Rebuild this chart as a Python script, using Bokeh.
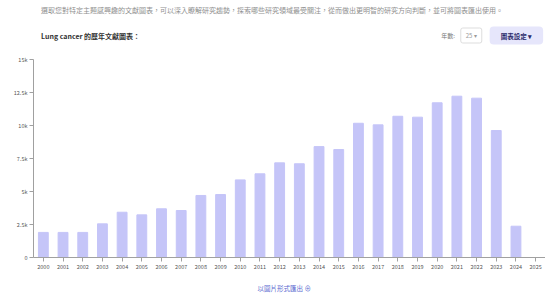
from bokeh.plotting import figure
from bokeh.layouts import column
from bokeh.models import Label, FixedTicker, Range1d
from bokeh.embed import file_html
from bokeh.resources import INLINE

years = [str(y) for y in range(2000, 2026)]
counts = [1900, 1900, 1900, 2550, 3430, 3230, 3690, 3560, 4700, 4770,
          5880, 6340, 7170, 7100, 8400, 8180, 10170, 10050, 10700, 10630,
          11720, 12220, 12070, 9620, 2370, 0]
y_ticks = [0, 2500, 5000, 7500, 10000, 12500, 15000]
y_tick_labels = ["0", "2.5k", "5k", "7.5k", "10k", "12.5k", "15k"]

description = "選取您對特定主題感興趣的文獻圖表，可以深入瞭解研究趨勢，探索哪些研究領域最受關注，從而做出更明智的研究方向判斷，並可將圖表匯出使用。"
chart_title = "Lung cancer 的歷年文獻圖表："
range_label = "年數:"
range_value = "25 ▾"
settings_label = "圖表設定 ▾"
export_label = "以圖片形式匯出 ⊕"

FONT = "Noto Sans CJK TC"
W = 545


def blank(height):
    f = figure(width=W, height=height, x_range=Range1d(0, W), y_range=Range1d(height, 0),
               output_backend="svg", toolbar_location=None, title=None,
               x_axis_location=None, y_axis_location=None,
               min_border=0, min_border_left=0, min_border_right=0,
               min_border_top=0, min_border_bottom=0)
    f.outline_line_color = None
    f.xgrid.grid_line_color = None
    f.ygrid.grid_line_color = None
    return f


def lab(fig, text, x, y, size, color, style="normal", align="left", **kw):
    fig.add_layout(Label(x=x, y=y, text=text, text_font=FONT, text_font_size=size,
                         text_color=color, text_font_style=style, text_align=align,
                         text_baseline="middle", **kw))


# header
head = blank(52)
lab(head, description, 8, 9.5, "7px", "#8f8f8f")
lab(head, chart_title, 8, 35, "7px", "#333333", style="bold")
lab(head, range_label, 434, 35, "6px", "#777777")
lab(head, range_value, 466, 35, "6px", "#9a9a9a", align="center",
    border_line_color="#dddddd", background_fill_color="#ffffff", padding=(5, 3), border_radius=2)
lab(head, settings_label, 514, 35, "6.5px", "#2b2b6b", style="bold", align="center",
    background_fill_color="#e6e6fb", padding=(11, 4), border_radius=4)

# main chart
p = figure(x_range=years, y_range=Range1d(0, 15000), width=W, height=223,
           output_backend="svg", toolbar_location=None, title=None,
           min_border_left=33, min_border_right=0, min_border_top=7, min_border_bottom=18)
p.outline_line_color = None
p.xgrid.grid_line_color = None
p.ygrid.grid_line_color = None

p.vbar(x=years, top=counts, width=0.5, color="#c5c5f8")

for ax in (p.xaxis, p.yaxis):
    ax.axis_line_color = "#a0a0a0"
    ax.major_tick_line_color = "#a0a0a0"
    ax.major_tick_out = 4
    ax.major_tick_in = 0
    ax.minor_tick_line_color = None
    ax.major_label_text_font_size = "5.5px"
    ax.major_label_text_color = "#555555"
    ax.major_label_text_font = FONT
    ax.major_label_standoff = 2

p.yaxis.ticker = FixedTicker(ticks=y_ticks)
p.yaxis.major_label_overrides = {t: l for t, l in zip(y_ticks, y_tick_labels)}
p.x_range.range_padding = 0

# footer
foot = blank(20)
lab(foot, export_label, 267, 12, "6.5px", "#5a6ad0", align="center")

layout = column(head, p, foot, spacing=0)
open("out.html", "w").write(file_html(layout, INLINE))
